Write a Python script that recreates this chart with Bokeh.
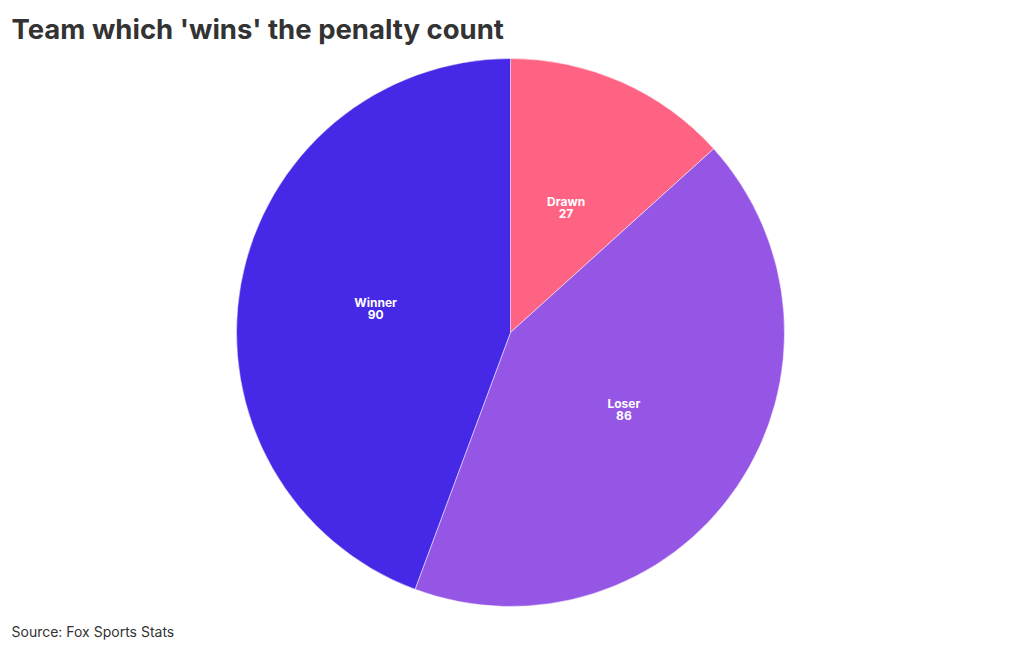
import math
from bokeh.plotting import figure
from bokeh.models import Range1d, ColumnDataSource
from bokeh.core.properties import value
from bokeh.embed import file_html
from bokeh.resources import INLINE

categories = ["Drawn", "Loser", "Winner"]
counts = [27, 86, 90]
colors = ["#FF6384", "#9556E5", "#4529E6"]

W, H = 1020, 650
cx, cy, R = 510, H - 332, 274

total = sum(counts)
starts, ends, lx, ly, labels = [], [], [], [], []
cum = 0.0
for c, n in zip(categories, counts):
    a0 = math.pi / 2 - 2 * math.pi * cum / total
    cum += n
    a1 = math.pi / 2 - 2 * math.pi * cum / total
    starts.append(a0)
    ends.append(a1)
    mid = (a0 + a1) / 2
    lx.append(cx + 0.5 * R * math.cos(mid))
    ly.append(cy + 0.5 * R * math.sin(mid))
    labels.append(f"{c}\n{n}")

src = ColumnDataSource(dict(start=starts, end=ends, color=colors, lx=lx, ly=ly, label=labels))

p = figure(width=W, height=H, x_range=Range1d(0, W), y_range=Range1d(0, H),
           output_backend="svg", toolbar_location=None, min_border=0)
p.axis.visible = False
p.grid.visible = False
p.outline_line_color = None
p.background_fill_color = "white"
p.border_fill_color = "white"

p.wedge(x=cx, y=cy, radius=R, start_angle="start", end_angle="end", direction="clock",
        fill_color="color", line_color="white", line_width=0.5, source=src)

p.text(x="lx", y="ly", text="label", source=src, text_color="white",
       text_font=value("Inter"), text_font_style="bold", text_font_size="12px",
       text_align="center", text_baseline="middle", text_line_height=0.8)

p.text(x=[11], y=[H - 28], text=["Team which 'wins' the penalty count"], text_color="#333333",
       text_font=value("Inter"), text_font_style="bold", text_font_size="27.5px",
       text_align="left", text_baseline="middle")

p.text(x=[11], y=[H - 631], text=["Source: Fox Sports Stats"], text_color="#333333",
       text_font=value("Inter"), text_font_size="14px",
       text_align="left", text_baseline="middle")

open("out.html", "w").write(file_html(p, INLINE))
